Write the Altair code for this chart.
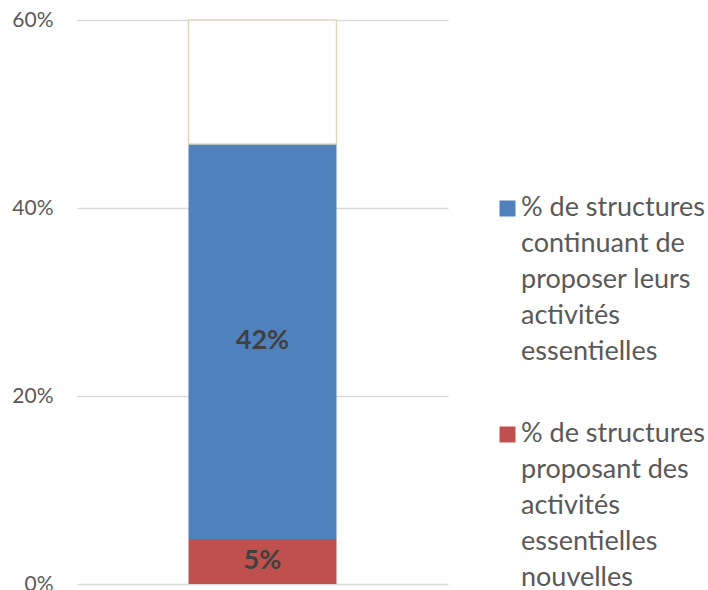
import altair as alt
import pandas as pd

series = [
    "% de structures continuant de proposer leurs activités essentielles",
    "% de structures proposant des activités essentielles nouvelles",
    "reste",
]
values = [42.0, 4.8, 13.2]
labels = ["42%", "5%", ""]
stack_order = [2, 1, 3]
colors = ["#4F81BD", "#C0504D", "#FFFFFF"]
legend_lines = [
    ["% de structures", "continuant de", "proposer leurs", "activités", "essentielles"],
    ["% de structures", "proposant des", "activités", "essentielles", "nouvelles"],
]
y_ticks = [0, 20, 40, 60]

df = pd.DataFrame({
    "cat": ["A"] * 3,
    "series": series,
    "value": values,
    "label": labels,
    "ord": stack_order,
})

label_expr = "datum.label == '%s' ? %s : %s" % (
    series[0].replace("'", "\\'"),
    str(legend_lines[0]),
    str(legend_lines[1]),
)

FONT = "Lato"

bars = alt.Chart(df).mark_bar(size=148, strokeWidth=1.5).encode(
    x=alt.X("cat:N", axis=None),
    y=alt.Y("value:Q", stack="zero",
            scale=alt.Scale(domain=[0, 60], nice=False),
            axis=alt.Axis(values=y_ticks, labelExpr="datum.value + '%'",
                          title=None, domain=False, ticks=False,
                          labelFontSize=21, labelColor="#595959", labelFont=FONT,
                          labelPadding=24, gridColor="#D9D9D9", gridWidth=1.5)),
    color=alt.Color("series:N", scale=alt.Scale(domain=series, range=colors),
                    legend=alt.Legend(values=series[:2], title=None, orient="none",
                                      legendX=417, legendY=182,
                                      symbolType="M-1,-1.875H1V0.125H-1Z", symbolSize=256,
                                      symbolStrokeWidth=0, labelFontSize=27,
                                      labelFont=FONT, labelColor="#595959",
                                      labelLimit=400, labelOffset=0,
                                      labelBaseline="alphabetic", rowPadding=54,
                                      labelExpr=label_expr)),
    stroke=alt.condition(alt.datum.series == "reste", alt.value("#DDD8BF"), alt.value(None)),
    order=alt.Order("ord:Q"),
)

text = alt.Chart(df).transform_stack(
    stack="value", groupby=["cat"], as_=["v0", "v1"], sort=[alt.SortField("ord")]
).transform_calculate(mid="(datum.v0 + datum.v1) / 2").mark_text(
    fontSize=27, fontWeight="bold", color="#404040", font=FONT
).encode(
    x=alt.X("cat:N", axis=None),
    y=alt.Y("mid:Q"),
    text="label:N",
)

chart = alt.layer(bars, text).properties(
    width=371, height=564,
    autosize=alt.AutoSizeParams(type="none"),
    padding={"left": 77, "top": 20, "right": 260, "bottom": 6},
).configure(
    style={"guide-label": {"lineHeight": 36}},
    view={"strokeWidth": 0, "stroke": "transparent"},
)

chart.save("out.html", embed_options={"renderer": "svg", "actions": False})
